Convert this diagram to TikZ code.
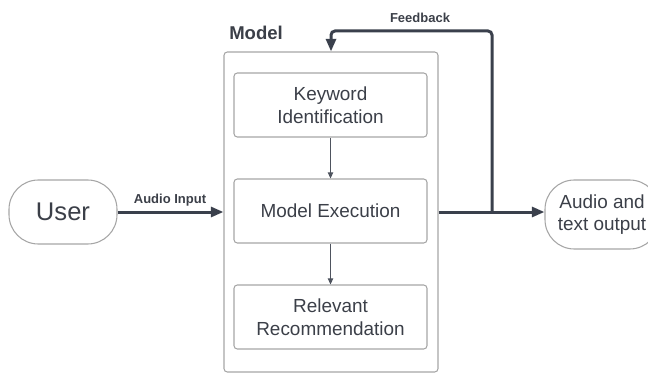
\documentclass[tikz,border=0pt]{standalone}
\usepackage{fontspec}
\setmainfont{Liberation Sans}
\usetikzlibrary{arrows.meta}
\definecolor{ink}{HTML}{3B3F48}
\definecolor{edge}{HTML}{A6A6A6}
\definecolor{wire}{HTML}{3A404C}
\begin{document}
\begin{tikzpicture}[x=0.75pt,y=-0.75pt,
	box/.style={draw=edge,line width=0.8pt,rounded corners=2.5pt,minimum width=144.75pt,minimum height=48pt,inner sep=0pt,align=center,text=ink,font=\fontsize{14.2}{16.9}\selectfont},
	pill/.style={draw=edge,line width=0.8pt,rounded corners=22pt,inner sep=0pt,align=center,text=ink},
	flow/.style={draw=wire,line width=2.25pt,-{Triangle[length=9.5pt,width=7.5pt]}},
	thin/.style={draw=wire!90,line width=0.75pt,-{Triangle[length=4.5pt,width=4pt]}},
	tag/.style={inner sep=0pt,text=ink,font=\fontsize{9.75}{11}\selectfont\bfseries}]
	\useasboundingbox (0,0) rectangle (648,374);
	% outer model frame and its title
	\node[draw=edge,line width=0.8pt,rounded corners=2.5pt,minimum width=160.5pt,minimum height=240pt,inner sep=0pt] (model) at (331,212) {};
	\node[inner sep=0pt,anchor=base west,text=ink,font=\fontsize{13.9}{16}\selectfont\bfseries] (title) at (229,40) {Model};
	% steps inside the model
	\node[box] (kw) at (330.5,105) {Keyword\\Identification};
	\node[box] (exec) at (330.5,211) {Model Execution};
	\node[box] (rec) at (330.5,317) {Relevant\\Recommendation};
	% outside
	\node[pill,minimum width=81pt,minimum height=48pt,font=\fontsize{19.2}{22}\selectfont] (user) at (63,212) {User};
	\node[pill,minimum width=85.5pt,minimum height=51.75pt,font=\fontsize{14.2}{16.9}\selectfont] (out) at (602,214.5) {Audio and\\text output};
	\draw[thin] (kw) -- (exec);
	\draw[thin] (exec) -- (rec);
	\draw[flow] (user.east |- 0,212) -- (model.west |- 0,212);
	\node[tag] (inlab) at (170,200) {Audio Input};
	\draw[flow] (model.east |- 0,212) -- (out.west |- 0,212);
	\coordinate (fb) at (492,212);
	\draw[flow,rounded corners=3pt] (fb) -- (492,31) -| (model.north);
	\node[tag] (fblab) at (420,18) {Feedback};
\end{tikzpicture}
\end{document}
